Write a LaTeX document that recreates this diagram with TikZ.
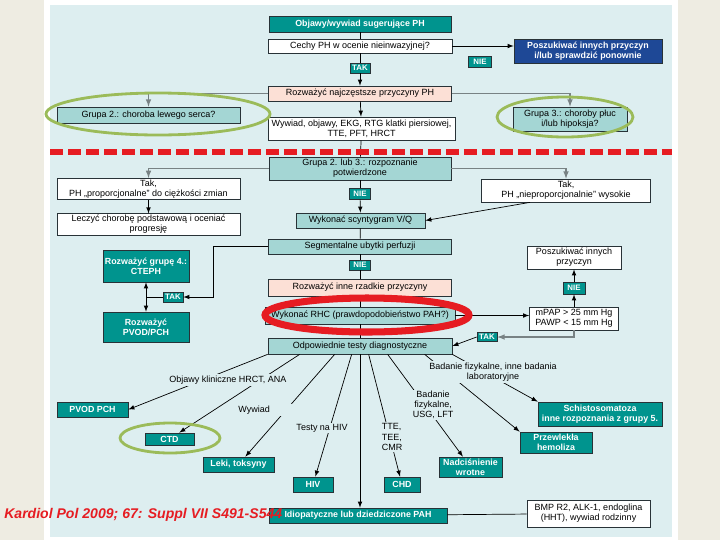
\documentclass[tikz,border=0pt]{standalone}
\usepackage{fontspec}
\setmainfont{Liberation Sans}
\usepackage{tikz}
\usetikzlibrary{positioning, arrows, calc, shapes}

\definecolor{panel}{RGB}{221,238,240}
\definecolor{margin}{RGB}{238,236,226}
\definecolor{tealdark}{RGB}{0,148,142}
\definecolor{teallight}{RGB}{164,214,212}
\definecolor{pinkfill}{RGB}{252,224,214}
\definecolor{bluefill}{RGB}{30,72,150}
\definecolor{boxline}{RGB}{40,50,55}
\definecolor{greyline}{RGB}{120,130,132}
\definecolor{ringgreen}{RGB}{155,187,89}
\definecolor{ringred}{RGB}{230,28,34}

\tikzset{
	box/.style={draw=boxline, line width=0.5pt, rectangle, text centered, align=center, inner sep=1pt, font=\fontsize{6.4}{7.2}\selectfont},
	whitebox/.style={box, fill=white},
	lightbox/.style={box, fill=teallight},
	pinkbox/.style={box, fill=pinkfill},
	tealbox/.style={box, fill=tealdark, text=white, font=\fontsize{6.3}{7.2}\selectfont\bfseries},
	bluebox/.style={box, fill=bluefill, text=white, font=\fontsize{6.3}{7.2}\selectfont\bfseries},
	takbox/.style={tealbox, inner sep=0.5pt, font=\fontsize{5.6}{6.5}\selectfont\bfseries},
	wh/.style 2 args={minimum width=#1*0.025cm, minimum height=#2*0.025cm},
	lbl/.style={fill=panel, inner sep=1pt, align=center, font=\fontsize{6.4}{7.2}\selectfont},
	link/.style={draw=black, line width=0.5pt},
	greylink/.style={draw=greyline, line width=0.8pt},
	ring/.style={draw=ringgreen, line width=2pt},
	redring/.style={draw=ringred, line width=5pt},
	reddash/.style={draw=ringred, line width=4.3pt, dash pattern=on 9.2pt off 3.6pt}
}

\begin{document}
\begin{tikzpicture}[x=0.025cm, y=-0.025cm]
		
		%Background and panel
		\useasboundingbox (0,0) rectangle (720,540);
		\fill[margin] (0,0) rectangle (720,540);
		\fill[white] (44,0) rectangle (678,540);
		\fill[panel] (50,5) rectangle (672,537);
		
		%Nodes in the upper part of the scheme
		\node (objawy) at (360,24) [tealbox, wh={182}{16}]{Objawy/wywiad sugerujące PH};
		
		\node (cechy) at (360,46) [whitebox, wh={184}{14}]{Cechy PH w ocenie nieinwazyjnej?};
		
		\node (firstTak) at (360,68) [takbox, wh={20}{10}]{TAK};
		
		\node (firstNie) at (480,61.5) [takbox, wh={23}{11}]{NIE};
		
		\node (firstPoszukiwac) at (588,51) [bluebox, wh={148}{24}]{Poszukiwać innych przyczyn\\i/lub sprawdzić ponownie};
		
		\node (firstRozwazyc) at (360,93.5) [pinkbox, wh={183}{15}]{Rozważyć najczęstsze przyczyny PH};
		
		\node (grupaDwa) at (148.5,115) [lightbox, wh={183}{16}]{Grupa 2.: choroba lewego serca?};
		
		\node (grupaTrzy) at (570,119) [lightbox, wh={114}{24}]{Grupa 3.: choroby płuc\\i/lub hipoksja?};
		
		\node (wywiad) at (361.5,128.5) [whitebox, wh={187}{23}]{Wywiad, objawy, EKG, RTG klatki piersiowej,\\TTE, PFT, HRCT};
		
		%Links in the upper part
		\draw[link] (objawy) -- (cechy);
		
		\draw[link] (cechy) -- (firstTak);
		
		\draw[link,-latex] (firstTak) -- (firstRozwazyc);
		
		\draw[link,-latex] (cechy.east) -- (cechy.east -| firstPoszukiwac.west);
		
		\draw[greylink,-latex] (firstRozwazyc.west) -| (grupaDwa.north);
		
		\draw[greylink,-latex] (firstRozwazyc.east) -| (grupaTrzy.north);
		
		\draw[link,-latex] (firstRozwazyc) -- (wywiad);
		
		
		%Nodes in the middle part of the scheme
		\node (potwierdzone) at (360,168.5) [lightbox, wh={182}{23}]{Grupa 2. lub 3.: rozpoznanie\\potwierdzone};
		
		\node (leftTak) at (148.5,189) [whitebox, wh={183}{20}]{Tak,\\PH „proporcjonalne” do ciężkości zmian};
		
		\node (rightTak) at (566,190.5) [whitebox, wh={169}{23}]{Tak,\\PH „nieproporcjonalnie” wysokie};
		
		\node (secondNie) at (360,193.5) [takbox, wh={21}{11}]{NIE};
		
		\node (leczyc) at (148.5,224.5) [whitebox, wh={183}{21}]{Leczyć chorobę podstawową i oceniać\\progresję};
		
		\node (scyntygram) at (360.5,220.5) [lightbox, wh={129}{15}]{Wykonać scyntygram V/Q};
		
		\node (segmentalne) at (360,246.5) [lightbox, wh={183}{15}]{Segmentalne ubytki perfuzji};
		
		\node (thirdNie) at (360,265) [takbox, wh={21}{10}]{NIE};
		
		\node (cteph) at (146,266) [tealbox, wh={86}{32}]{Rozważyć grupę 4.:\\CTEPH};
		
		\node (firstPvod) at (146,327) [tealbox, wh={86}{30}]{Rozważyć\\PVOD/PCH};
		
		\node (secondTak) at (173,297) [takbox, wh={20}{10}]{TAK};
		
		\node (secondPoszukiwac) at (574,257.5) [whitebox, wh={94}{23}]{Poszukiwać innych\\przyczyn};
		
		\node (secondRozwazyc) at (360,287.5) [pinkbox, wh={183}{17}]{Rozważyć inne rzadkie przyczyny};
		
		\node (fourthNie) at (574,288) [takbox, wh={22}{12}]{NIE};
		
		\node (rhc) at (360,315.5) [lightbox, wh={190}{17}]{Wykonać RHC (prawdopodobieństwo PAH?)};
		
		\node (mpap) at (574,318.5) [whitebox, wh={89}{23}]{mPAP > 25 mm Hg\\PAWP < 15 mm Hg};
		
		\node (thirdTak) at (487,337) [takbox, wh={20}{9}]{TAK};
		
		\node (odpowiednie) at (360,346) [lightbox, wh={184}{16}]{Odpowiednie testy diagnostyczne};
		
		%Links in the middle part
		\draw[link] (wywiad) -- (potwierdzone);
		
		\draw[greylink,-latex] (potwierdzone.west) -| (leftTak.north);
		
		\draw[greylink,-latex] (potwierdzone.east) -| (rightTak.north);
		
		\draw[link] (potwierdzone) -- (secondNie);
		
		\draw[link,-latex] (secondNie) -- (scyntygram);
		
		\draw[link,-latex] (leftTak) -- (leczyc);
		
		\draw[link,-latex] ($(rightTak.south)+(-36,0)$) -- (scyntygram.east);
		
		\draw[link] (scyntygram) -- (segmentalne);
		
		\draw[link] (segmentalne) -- (thirdNie);
		
		\draw[link] (thirdNie) -- (secondRozwazyc);
		
		\draw[link,-latex] (segmentalne.west) -- ++(-55,0) |- (secondTak.east);
		
		\draw[link] (secondTak.west) -- (secondTak.west -| cteph.south);
		
		\draw[link,latex-latex] (cteph) -- (firstPvod);
		
		\draw[link] (secondRozwazyc) -- (rhc);
		
		\draw[link] (rhc) -- (odpowiednie);
		
		\draw[link,-latex] (rhc.east) -- (rhc.east -| mpap.west);
		
		\draw[link,-latex] (mpap) -- (fourthNie);
		
		\draw[link,-latex] (fourthNie) -- (secondPoszukiwac);
		
		\draw[greylink,-latex] (mpap.south) |- (thirdTak.east);
		
		\draw[link,-latex] (thirdTak.west) -- (odpowiednie.east);
		
		
		%Nodes in the lower part of the scheme
		\node (secondPvod) at (92.5,409.5) [tealbox, wh={71}{15}]{PVOD PCH};
		
		\node (ctd) at (169.5,439) [tealbox, wh={49}{12}]{CTD};
		
		\node (leki) at (238.5,464.5) [tealbox, wh={71}{15}]{Leki, toksyny};
		
		\node (hiv) at (313,484.5) [tealbox, wh={40}{15}]{HIV};
		
		\node (chd) at (402,484.5) [tealbox, wh={36}{15}]{CHD};
		
		\node (wrotne) at (470.5,467) [tealbox, wh={63}{20}]{Nadciśnienie\\wrotne};
		
		\node (hemoliza) at (556,442.5) [tealbox, wh={72}{21}]{Przewlekła\\hemoliza};
		
		\node (schisto) at (600,414) [tealbox, wh={124}{24}]{Schistosomatoza\\inne rozpoznania z grupy 5.};
		
		\node (idiopatyczne) at (358,515.5) [tealbox, wh={178}{15}]{Idiopatyczne lub dziedziczone PAH};
		
		\node (bmpr) at (588.5,513.5) [whitebox, wh={123}{27}]{BMP R2, ALK-1, endoglina\\(HHT), wywiad rodzinny};
		
		%Links to the diagnoses
		\draw[link,-latex] (odpowiednie.south west) -- (secondPvod.east);
		
		\draw[link,-latex] ($(odpowiednie.south west)+(32,0)$) -- (ctd);
		
		\draw[link,-latex] ($(odpowiednie.south west)+(67,0)$) -- (leki);
		
		\draw[link,-latex] ($(odpowiednie.south west)+(84,0)$) -- (hiv);
		
		\draw[link,-latex] (odpowiednie.south) -- (odpowiednie.south |- idiopatyczne.north);
		
		\draw[link,-latex] ($(odpowiednie.south west)+(101,0)$) -- (chd);
		
		\draw[link,-latex] ($(odpowiednie.south west)+(120,0)$) -- (wrotne);
		
		\draw[link,-latex] ($(odpowiednie.south west)+(157,0)$) -- (hemoliza.north west);
		
		\draw[link,-latex] (odpowiednie.south east) -- (schisto.north west);
		
		\draw[link] (idiopatyczne) -- (bmpr);
		
		%Labels on the links
		\node (objawyKliniczne) at (228,380) [lbl]{Objawy kliniczne HRCT, ANA};
		
		\node (wywiadLbl) at (264.5,410) [lbl, text width=1.3cm, align=left]{Wywiad};
		
		\node (testyHiv) at (322,428) [lbl]{Testy na HIV};
		
		\node (echo) at (392,437) [lbl, align=left]{TTE,\\TEE,\\CMR};
		
		\node (badanieUsg) at (433,405) [lbl]{Badanie\\fizykalne,\\USG, LFT};
		
		\node (badanieLab) at (493,372) [lbl]{Badanie fizykalne, inne badania\\laboratoryjne};
		
		
		%Marks drawn over the scheme
		\draw[ring] (158,114) ellipse [x radius=112, y radius=21];
		
		\draw[ring] (565,117) ellipse [x radius=68, y radius=20];
		
		\draw[ring] (170,438) ellipse [x radius=50, y radius=15];
		
		\draw[redring] (367,315) ellipse [x radius=102, y radius=17];
		
		\draw[reddash] (50,152) -- (672,152);
		
		\node (zrodlo) at (4,515) [anchor=west, inner sep=0pt, text=ringred, font=\fontsize{10}{12}\selectfont\bfseries\itshape]{Kardiol Pol 2009; 67: Suppl VII S491-S544};
		
\end{tikzpicture}
\end{document}
